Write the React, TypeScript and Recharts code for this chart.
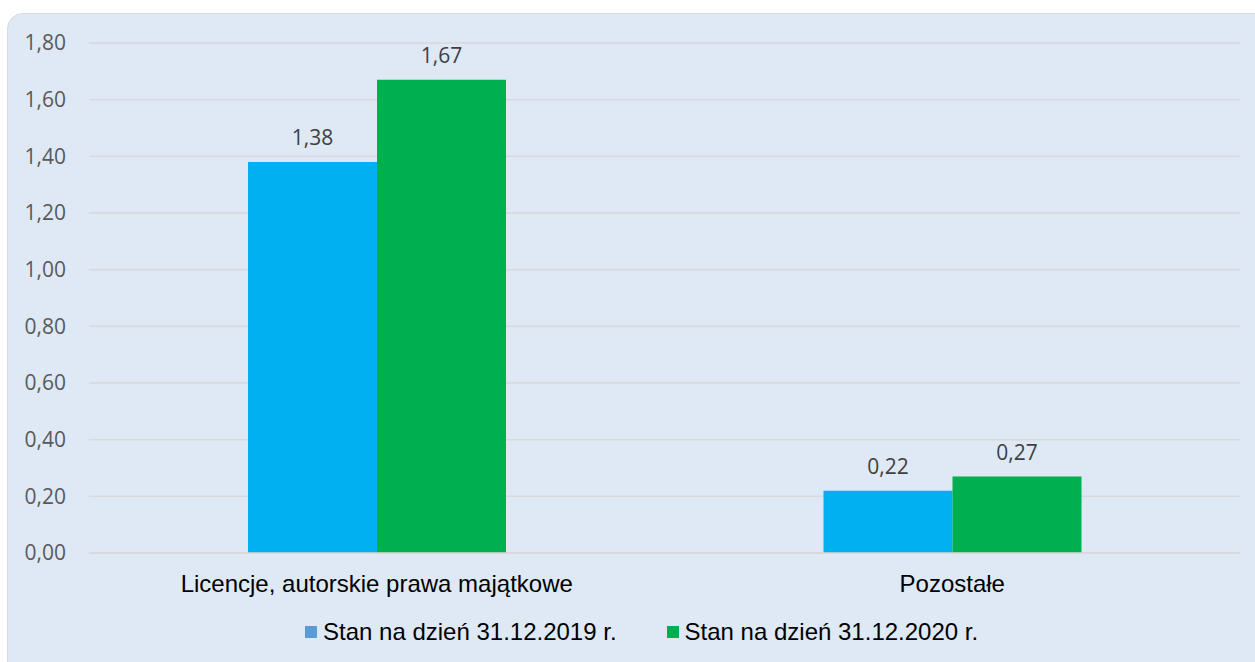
import { BarChart, Bar, XAxis, YAxis, CartesianGrid, LabelList } from 'recharts';

const categories = ['Licencje, autorskie prawa majątkowe', 'Pozostałe'];
const values2019 = [1.38, 0.22];
const values2020 = [1.67, 0.27];
const yTicks = [0, 0.2, 0.4, 0.6, 0.8, 1.0, 1.2, 1.4, 1.6, 1.8];
const seriesNames = ['Stan na dzień 31.12.2019 r.', 'Stan na dzień 31.12.2020 r.'];

const data = categories.map((name, i) => ({
  name,
  v2019: values2019[i],
  v2020: values2020[i],
}));

const fmt = (v: number) => v.toFixed(2).replace('.', ',');

const BLUE = '#00b0f0';
const GREEN = '#00b050';
const SWATCH_2019 = '#5b9bd5';

// legend sits outside the chart so it doesn't shrink the plot area
function ChartLegend() {
  const items = [
    { label: seriesNames[0], color: SWATCH_2019 },
    { label: seriesNames[1], color: GREEN },
  ];
  return (
    <div style={{ position: 'absolute', left: 305, top: 618, display: 'flex', gap: 50 }}>
      {items.map(it => (
        <div key={it.label} style={{ display: 'flex', alignItems: 'center', gap: 6 }}>
          <span style={{ width: 12, height: 12, background: it.color, display: 'inline-block' }} />
          <span style={{ fontFamily: '"Liberation Sans", Arial, sans-serif', fontSize: 24, color: '#000', lineHeight: '28px' }}>
            {it.label}
          </span>
        </div>
      ))}
    </div>
  );
}

const labelStyle = { fontFamily: '"Open Sans", sans-serif', fontSize: 21, fill: '#404040' };

export default function App() {
  return (
    <div style={{ position: 'absolute', left: 0, top: 0, width: 1255, height: 662, background: '#fff', overflow: 'hidden' }}>
      <div
        style={{
          position: 'absolute', left: 7, top: 13, width: 1270, height: 670,
          background: '#dee9f5', border: '1px solid #d9d9d9', borderRadius: 16,
          boxSizing: 'border-box',
        }}
      />
      <div style={{ position: 'absolute', left: 0, top: 0 }}>
        <BarChart
          width={1255}
          height={662}
          data={data}
          margin={{ top: 43, right: 15, left: 0, bottom: 69 }}
          barCategoryGap={159}
          barGap={0}
        >
          <CartesianGrid vertical={false} stroke="#d9d9d9" strokeWidth={1.5} />
          <XAxis
            dataKey="name"
            axisLine={{ stroke: '#d9d9d9', strokeWidth: 1.5 }}
            tickLine={false}
            height={40}
            tickMargin={16}
            tick={{ fontFamily: '"Liberation Sans", Arial, sans-serif', fontSize: 24, fill: '#000' }}
          />
          <YAxis
            width={89}
            domain={[0, 1.8]}
            ticks={yTicks}
            tickFormatter={fmt}
            axisLine={false}
            tickLine={false}
            tickSize={0}
            tickMargin={23}
            tick={{ fontFamily: '"Open Sans", sans-serif', fontSize: 21, fill: '#595959' }}
          />
          <Bar dataKey="v2019" fill={BLUE} isAnimationActive={false}>
            <LabelList
              dataKey="v2019"
              position="top"
              offset={17}
              formatter={(v: number) => fmt(v)}
              style={labelStyle}
            />
          </Bar>
          <Bar dataKey="v2020" fill={GREEN} isAnimationActive={false}>
            <LabelList
              dataKey="v2020"
              position="top"
              offset={17}
              formatter={(v: number) => fmt(v)}
              style={labelStyle}
            />
          </Bar>
        </BarChart>
      </div>
      <ChartLegend />
    </div>
  );
}
